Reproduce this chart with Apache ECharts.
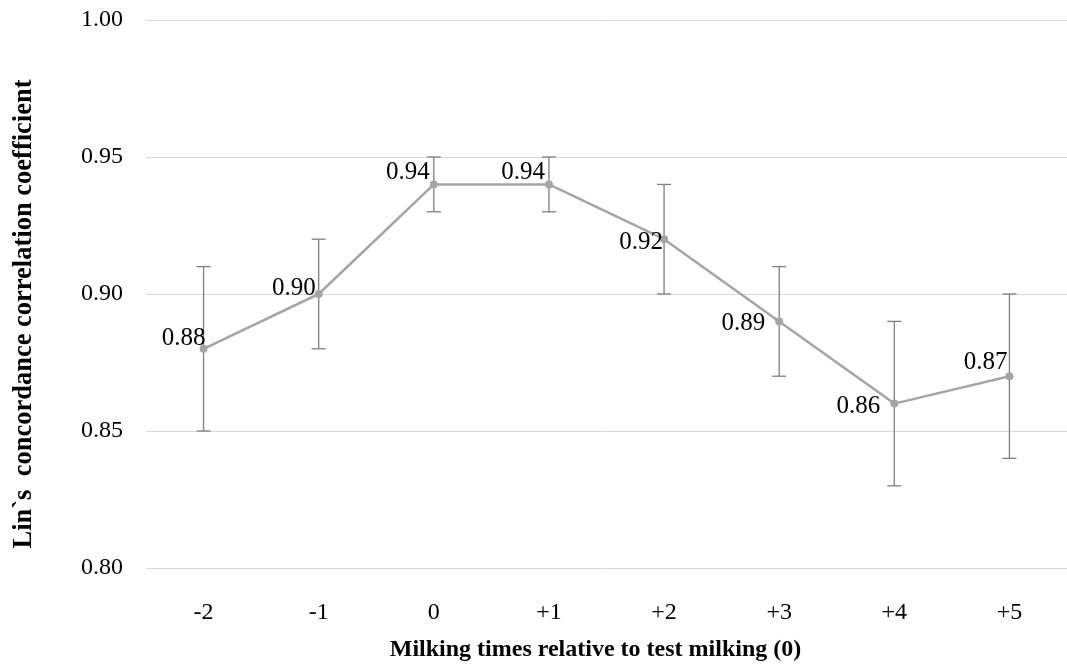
<!DOCTYPE html>
<html>
<head>
<meta charset="utf-8">
<script src="https://cdn.jsdelivr.net/npm/echarts@6/dist/echarts.min.js"></script>
<style>html,body{margin:0;padding:0;background:#fff;}#c{width:1067px;height:670px;}</style>
</head>
<body>
<div id="c"></div>
<script>
var categories = ['-2','-1','0','+1','+2','+3','+4','+5'];
var values = [0.88, 0.90, 0.94, 0.94, 0.92, 0.89, 0.86, 0.87];
var lower = [0.85, 0.88, 0.93, 0.93, 0.90, 0.87, 0.83, 0.84];
var upper = [0.91, 0.92, 0.95, 0.95, 0.94, 0.91, 0.89, 0.90];
var yTicks = [0.80, 0.85, 0.90, 0.95, 1.00];
// label offsets (style only)
var labelOffsets = [[6,-10],[1,-6],[0,-12],[0,-12],[3,3],[-10,2],[-10,3],[2,-14]];

var chart = echarts.init(document.getElementById('c'));
var font = '"Liberation Serif", "Times New Roman", serif';
var errData = categories.map(function(c, i){ return [i, lower[i], upper[i]]; });
var lineData = values.map(function(v, i){
  return {value: v, label: {offset: labelOffsets[i]}};
});
chart.setOption({
  animation: false,
  grid: {left: 146, top: 20, width: 935, height: 548},
  xAxis: {
    type: 'category',
    data: categories,
    boundaryGap: true,
    axisLine: {show: false},
    axisTick: {show: false},
    axisLabel: {color: '#000', fontFamily: font, fontSize: 24, margin: 33},
    name: 'Milking times relative to test milking (0)',
    nameLocation: 'middle',
    nameGap: 70,
    nameTextStyle: {color: '#000', fontFamily: font, fontSize: 24, fontWeight: 'bold', padding: [0, 22, 0, 0]}
  },
  yAxis: {
    type: 'value',
    min: 0.80,
    max: 1.00,
    interval: 0.05,
    axisLine: {show: false},
    axisTick: {show: false},
    splitLine: {lineStyle: {color: '#d9d9d9', width: 1}},
    axisLabel: {color: '#000', fontFamily: font, fontSize: 24, margin: 23,
      formatter: function(v){ return v.toFixed(2); }},
    name: 'Lin`s  concordance correlation coefficient',
    nameLocation: 'middle',
    nameGap: 108,
    nameTextStyle: {color: '#000', fontFamily: font, fontSize: 26.5, fontWeight: 'bold', padding: [0, 40, 0, 0]}
  },
  series: [
    {
      type: 'custom',
      data: errData,
      z: 1,
      renderItem: function(params, api){
        var x = api.value(0);
        var lo = api.coord([x, api.value(1)]);
        var hi = api.coord([x, api.value(2)]);
        var cap = 7;
        var st = {stroke: '#7f7f7f', lineWidth: 1.3};
        return {type: 'group', children: [
          {type: 'line', shape: {x1: lo[0], y1: lo[1], x2: hi[0], y2: hi[1]}, style: st},
          {type: 'line', shape: {x1: lo[0]-cap, y1: lo[1], x2: lo[0]+cap, y2: lo[1]}, style: st},
          {type: 'line', shape: {x1: hi[0]-cap, y1: hi[1], x2: hi[0]+cap, y2: hi[1]}, style: st}
        ]};
      }
    },
    {
      type: 'line',
      data: lineData,
      z: 2,
      symbol: 'circle',
      symbolSize: 8,
      itemStyle: {color: '#a5a5a5'},
      lineStyle: {color: '#a5a5a5', width: 2.5},
      label: {show: true, position: 'left', distance: 0, color: '#000', fontFamily: font, fontSize: 25,
        formatter: function(p){ return p.value.toFixed(2); }}
    }
  ]
});
</script>
</body>
</html>
